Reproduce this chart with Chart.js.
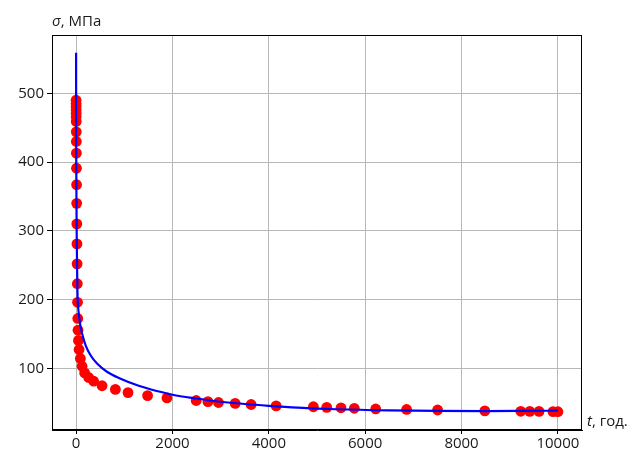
<!DOCTYPE html>
<html>
<head>
<meta charset="utf-8">
<script src="https://cdn.jsdelivr.net/npm/chart.js@4.4.1/dist/chart.umd.min.js"></script>
<style>
  html, body { margin: 0; padding: 0; background: #ffffff; }
  #wrap { width: 642px; height: 453px; position: relative; }
</style>
</head>
<body>
<div id="wrap"><canvas id="c"></canvas></div>
<script>
// Measured stress values over time
const measT = [0, 0.2, 0.5, 1, 1.5, 2, 3, 4, 5, 6, 8, 10, 12, 15, 18, 21, 25, 30, 35, 40, 50, 62, 89, 124, 178, 261, 365, 539, 815, 1078, 1484, 1886, 2493, 2736, 2955, 3302, 3633, 4152, 4925, 5202, 5498, 5774, 6218, 6860, 7503, 8483, 9229, 9416, 9608, 9898, 10000];
const measSigma = [490, 485, 480.5, 476, 471, 466, 459, 444, 430, 413, 391, 367, 340, 310, 281, 252, 223, 196, 172.5, 155.5, 140.5, 127.4, 114.3, 103, 93.3, 86.6, 81.2, 74.6, 69.3, 64.6, 60.3, 56.8, 53.1, 51.4, 50.2, 48.9, 47.3, 45.3, 44, 43.2, 42.5, 41.8, 40.8, 40.1, 39.3, 38, 37.4, 37.3, 37.2, 36.9, 36.8];

// Approximating curve
const fitT = [0, 0.3, 1, 2, 4, 7, 12, 20, 30, 45, 60, 80, 100, 124, 200, 300, 440, 640, 900, 1300, 1700, 2000, 2500, 3000, 3500, 4000, 4600, 5400, 6500, 7500, 8500, 9300, 10000];
const fitSigma = [559, 520, 480, 440, 395, 350, 300, 250, 205, 187, 177, 166, 158, 150.6, 133, 119, 106.5, 95, 85.5, 74.5, 66.5, 61.5, 56, 51.3, 48, 45.4, 42.8, 40.4, 38.7, 38, 37.8, 38, 38.3];

// Axis ticks and limits
const tickX = [0, 2000, 4000, 6000, 8000, 10000];
const tickY = [100, 200, 300, 400, 500];
const xLimits = [-500, 10500];
const yLimits = [10.2, 584.9];

const FONT = "'Open Sans', 'DejaVu Sans', sans-serif";
const TEXT = '#1a1a1a';

const measPoints = measT.map((t, i) => ({ x: t, y: measSigma[i] }));
const fitPoints = fitT.map((t, i) => ({ x: t, y: fitSigma[i] }));

// Frame around the plot area plus the two axis captions
const framePlugin = {
  id: 'frame',
  afterDraw(chart) {
    const { ctx, chartArea: a } = chart;
    ctx.save();
    ctx.strokeStyle = '#000';
    ctx.lineWidth = 1;
    ctx.strokeRect(a.left + 0.5, a.top + 0.5, a.right - a.left - 1, a.bottom - a.top - 1);
    ctx.fillStyle = TEXT;
    ctx.textBaseline = 'alphabetic';
    // y caption
    let x = a.left;
    const yy = a.top - 9;
    ctx.font = 'italic 15px ' + FONT;
    ctx.fillText('σ', x, yy);
    x += ctx.measureText('σ').width;
    ctx.font = '15px ' + FONT;
    ctx.fillText(', МПа', x, yy);
    // x caption
    x = a.right + 5;
    const xy = a.bottom - 4;
    ctx.font = 'italic 15px ' + FONT;
    ctx.fillText('t', x, xy);
    x += ctx.measureText('t').width;
    ctx.font = '15px ' + FONT;
    ctx.fillText(', год.', x, xy);
    ctx.restore();
  }
};

new Chart(document.getElementById('c'), {
  type: 'scatter',
  data: {
    datasets: [
      {
        type: 'line',
        data: fitPoints,
        borderColor: '#0000ff',
        borderWidth: 2.2,
        pointRadius: 0,
        fill: false,
        cubicInterpolationMode: 'monotone',
        order: 0
      },
      {
        data: measPoints,
        backgroundColor: '#ff0000',
        borderColor: '#ff0000',
        pointRadius: 5.4,
        pointBorderWidth: 0,
        order: 1
      }
    ]
  },
  options: {
    responsive: true,
    maintainAspectRatio: false,
    animation: false,
    layout: { padding: { left: 0, right: 60, top: 35, bottom: 0 } },
    plugins: { legend: { display: false }, tooltip: { enabled: false } },
    scales: {
      x: {
        type: 'linear',
        min: xLimits[0],
        max: xLimits[1],
        afterBuildTicks(scale) { scale.ticks = tickX.map(v => ({ value: v })); },
        afterFit(scale) { scale.height = 23; },
        grid: { color: '#b8b8b8', lineWidth: 1, tickColor: '#000', tickLength: 4, drawOnChartArea: true },
        border: { display: true, color: '#000', width: 1 },
        ticks: { color: TEXT, font: { family: FONT, size: 15 }, padding: 1, maxRotation: 0, autoSkip: false,
                 callback: v => String(v) }
      },
      y: {
        type: 'linear',
        min: yLimits[0],
        max: yLimits[1],
        afterBuildTicks(scale) { scale.ticks = tickY.map(v => ({ value: v })); },
        afterFit(scale) { scale.width = 52; },
        grid: { color: '#b8b8b8', lineWidth: 1, tickColor: '#000', tickLength: 5 },
        border: { display: true, color: '#000', width: 1 },
        ticks: { color: TEXT, font: { family: FONT, size: 15 }, padding: 3, callback: v => String(v) }
      }
    }
  },
  plugins: [framePlugin]
});
</script>
</body>
</html>
